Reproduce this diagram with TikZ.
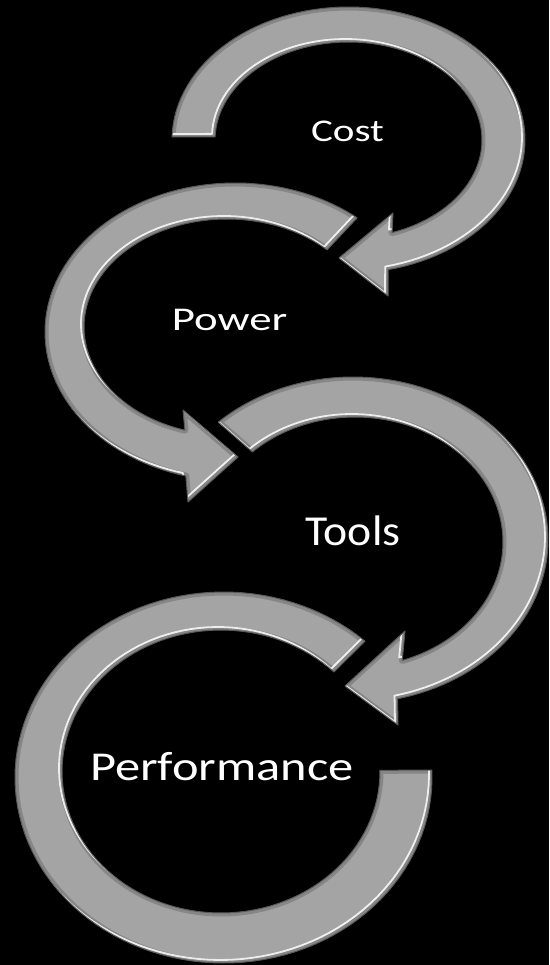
\documentclass[tikz,border=0pt]{standalone}
\usepackage{fontspec}
\setmainfont{Carlito}
\usepackage{graphicx}
\definecolor{steel}{HTML}{A4A4A4}

% outlines of the four curved arrows (pixel units, y pointing down);
% each band is an outer and an inner elliptic arc joined by the head or the cuts
\def\costpath{plot[domain=181.3:437, samples=90] ({348.5+176.5*cos(\x)},{140+133*sin(\x)})
  -- (388,296) -- (339,258) -- (393,213)
  -- plot[domain=0:1, samples=90] ({348.5+133.5*cos(431-249.3*\x)},{140+98*sin(431-249.3*\x)}) -- cycle}

\def\powerpath{plot[domain=0:1, samples=90] ({235+190*cos(-50-205.1*\x)},{332+149*sin(-50-205.1*\x)})
  -- (188,502) -- (238,457) -- (183,410)
  -- plot[domain=-252.9:-45.6, samples=90] ({227+143*cos(\x)},{327+108*sin(\x)}) -- cycle}

\def\toolspath{plot[domain=226.3:436.8, samples=90] ({353+195*cos(\x)},{540+163*sin(\x)})
  -- (398,725) -- (345,686) -- (405,631)
  -- plot[domain=0:1, samples=90] ({355+148*cos(431.4-205.4*\x)},{542+125*sin(431.4-205.4*\x)}) -- cycle}

\def\perfpath{plot[domain=-2.3:312.7, samples=110] ({223.5+208.5*cos(\x)},{777.5+185.5*sin(\x)})
  -- plot[domain=0:1, samples=110] ({221+159*cos(315.3-315.9*\x)},{771.5+141.5*sin(315.3-315.9*\x)}) -- cycle}

% grey bevelled band: flat face, darkened rim, light glint on lower-right edges
\newcommand{\bevelband}[1]{%
  \fill[body] #1;
  \begin{scope}
    \clip #1;
    \draw[rimsoft] #1;
    \begin{scope}[shift={(-3,-3)}]\draw[glint] #1;\end{scope}
  \end{scope}
  \draw[rimline] #1;}

\begin{document}
\begin{tikzpicture}[x=1pt,y=-1pt,
  body/.style={fill=steel},
  rimsoft/.style={draw=black, draw opacity=0.18, line width=7pt, line join=round},
  rimline/.style={draw=steel!55!black, line width=1pt, line join=round},
  glint/.style={draw=white, draw opacity=0.85, line width=1.8pt, line join=round},
  lbl/.style={text=white, inner sep=0pt, anchor=base}]
  \useasboundingbox (0,0) rectangle (549,965);
  \fill[black] (0,0) rectangle (549,965);

  \bevelband{\perfpath}
  \bevelband{\toolspath}
  \bevelband{\powerpath}
  \bevelband{\costpath}

  \node[lbl] (cost)  at (347.5,142) {\fontsize{31.6}{38}\selectfont\scalebox{1.3}[1]{Cost}};
  \node[lbl] (power) at (229.5,330) {\fontsize{33.2}{40}\selectfont\scalebox{1.35}[1]{Power}};
  \node[lbl] (tools) at (353,545)   {\fontsize{42.7}{50}\selectfont\scalebox{1.07}[1]{Tools}};
  \node[lbl] (perf)  at (222,780)   {\fontsize{41}{49}\selectfont\scalebox{1.23}[1]{Performance}};
\end{tikzpicture}
\end{document}
